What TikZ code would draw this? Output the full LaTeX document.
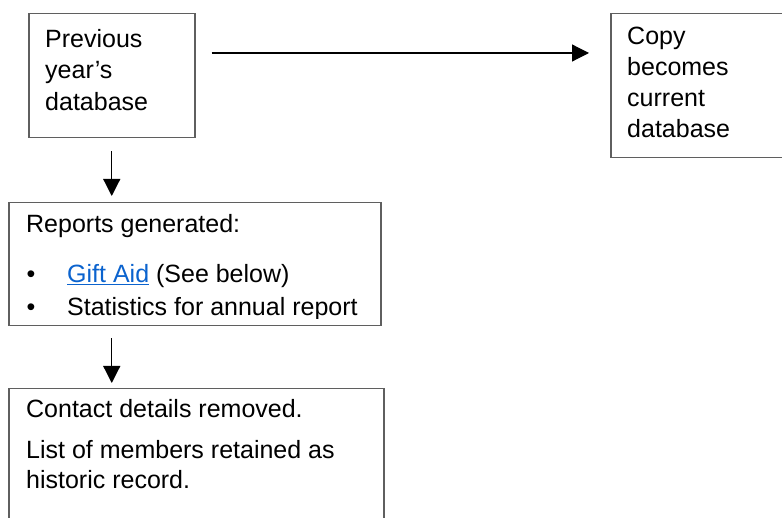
\documentclass[tikz,border=0pt]{standalone}
\usepackage{fontspec}
\setmainfont{Liberation Sans}
\usetikzlibrary{positioning,arrows.meta,calc}

\begin{document}
\begin{tikzpicture}[x=1pt,y=-1pt]
      \definecolor{boxgray}{HTML}{5F5F5F}
      \definecolor{linkblue}{HTML}{0B63CE}

      \newcommand{\boxfont}[0]{\fontsize{25}{31.3}\selectfont}
      \newcommand{\linkname}[1]{{\color{linkblue}\underline{#1}}}

      \tikzstyle{block}     = [rectangle, draw = boxgray, line width=1.5pt, anchor=north west, inner sep=0pt]
      \tikzstyle{boxline}   = [anchor=base west, inner sep=0pt, font=\boxfont]
      \tikzstyle{connector} = [line width=1.2pt, -{Triangle[width=17pt,length=17pt]}]

      \useasboundingbox (0,0) rectangle (782,518);
      \clip (0,0) rectangle (782,518);

      \node [block, minimum width=166pt, minimum height=124pt] (previous) at (28,13)  {};
      \node [block, minimum width=200pt, minimum height=144pt] (copy)     at (610,13) {};
      \node [block, minimum width=372pt, minimum height=123pt] (reports)  at (8,202)  {};
      \node [block, minimum width=375pt, minimum height=160pt] (removed)  at (8,388)  {};

      \draw [connector, shorten <=16pt, shorten >=21pt] ([yshift=-40pt]previous.north east) -- ([yshift=-40pt]copy.north west);
      \draw [connector, shorten <=13pt, shorten >=6pt]  (previous.south) -- (previous.south |- reports.north);
      \draw [connector, shorten <=12pt, shorten >=5pt]  (previous.south |- reports.south) -- (previous.south |- removed.north);

      \node [boxline] (previousa) at (45,47.5)  {Previous};
      \node [boxline] (previousb) at (45,79)    {year’s};
      \node [boxline] (previousc) at (45,110.5) {database};

      \node [boxline] (copya) at (627,45)  {Copy};
      \node [boxline] (copyb) at (627,76)  {becomes};
      \node [boxline] (copyc) at (627,107) {current};
      \node [boxline] (copyd) at (627,138) {database};

      \begin{scope}
        \clip (reports.north west) rectangle ([yshift=8pt]reports.south east);
        \node [boxline] (reportshead) at (26,233)   {Reports generated:};
        \node [boxline] (bulleta)     at (26.5,283) {\textbullet};
        \node [boxline] (bulletb)     at (26.5,316) {\textbullet};
        \node [boxline] (giftaid)     at (67,283)   {\linkname{Gift Aid} (See below)};
        \node [boxline] (statistics)  at (67,316)   {Statistics for annual report};
      \end{scope}

      \node [boxline] (removeda) at (26,418) {Contact details removed.};
      \node [boxline] (removedb) at (26,458) {List of members retained as};
      \node [boxline] (removedc) at (26,489) {historic record.};
    \end{tikzpicture}
\end{document}
